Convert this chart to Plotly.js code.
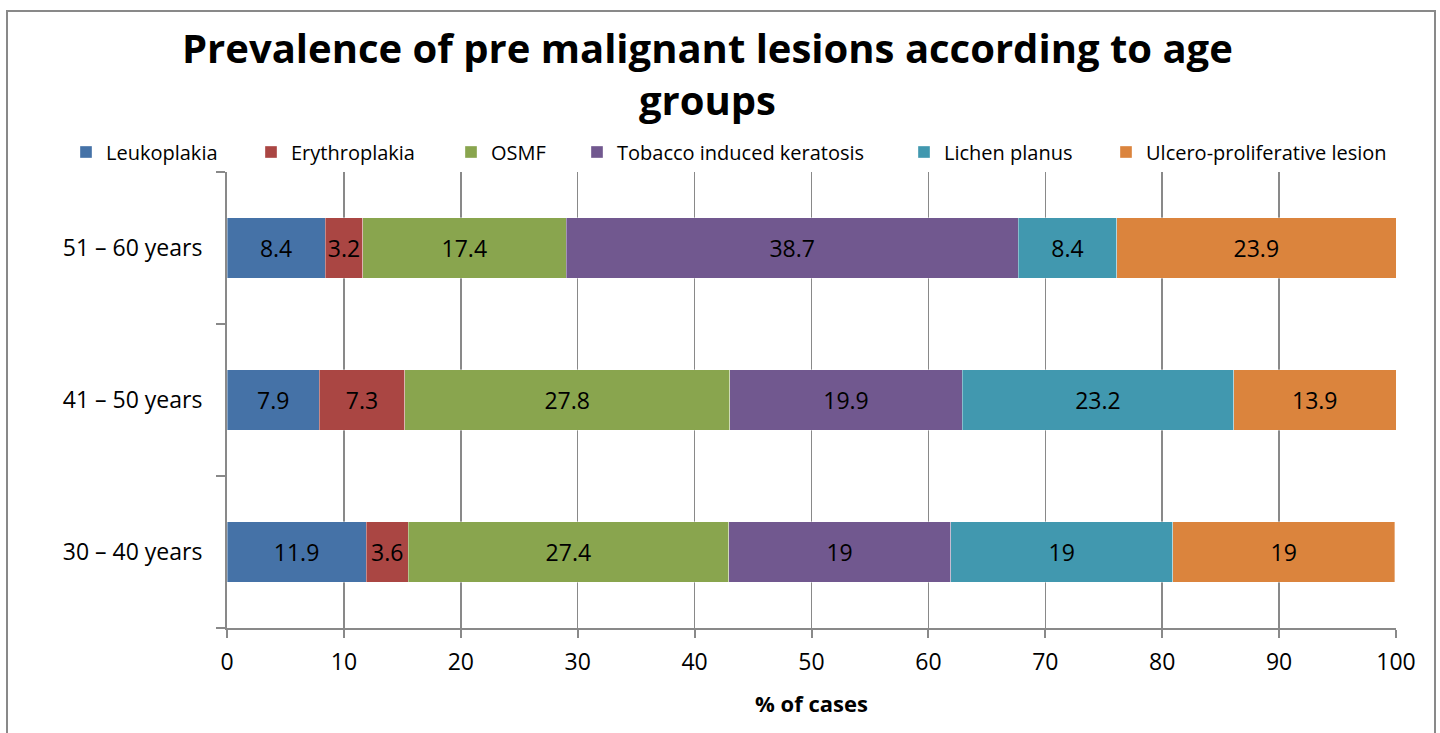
<!DOCTYPE html>
<html>
<head>
<meta charset="utf-8">
<script src="https://cdn.plot.ly/plotly-3.0.1.min.js"></script>
<style>html,body{margin:0;padding:0;background:#fff;}#chart{width:1440px;height:733px;}</style>
</head>
<body>
<div id="chart"></div>
<script>
const ageGroups = ["30 – 40 years", "41 – 50 years", "51 – 60 years"];
const seriesNames = ["Leukoplakia", "Erythroplakia", "OSMF", "Tobacco induced keratosis", "Lichen planus", "Ulcero-proliferative lesion"];
const leukoplakia = [11.9, 7.9, 8.4];
const erythroplakia = [3.6, 7.3, 3.2];
const osmf = [27.4, 27.8, 17.4];
const tobaccoKeratosis = [19, 19.9, 38.7];
const lichenPlanus = [19, 23.2, 8.4];
const ulceroProliferative = [19, 13.9, 23.9];
const xTicks = [0, 10, 20, 30, 40, 50, 60, 70, 80, 90, 100];
const titleText = "Prevalence of pre malignant lesions according to age<br>groups";
const xTitle = "% of cases";

const seriesValues = [leukoplakia, erythroplakia, osmf, tobaccoKeratosis, lichenPlanus, ulceroProliferative];
const colors = ["#4572A7", "#AA4643", "#89A54E", "#71588F", "#4198AF", "#DB843D"];
const FONT = "Open Sans, Noto Sans, sans-serif";

// plot area in pixels: x 227..1396, y 172..628
const pl = 227, pr = 1396, pt = 172, pb = 628;
const px = v => (v - pl) / (pr - pl);
const py = v => (pb - v) / (pb - pt);

// legend swatch left edges (px) for each entry, one legend per entry
const legendSwatchX = [80, 265, 465, 591, 918, 1120];

const traces = seriesNames.map((name, i) => ({
  type: "bar",
  orientation: "h",
  name: name,
  y: ageGroups,
  x: seriesValues[i],
  legend: i === 0 ? "legend" : "legend" + (i + 1),
  marker: {color: colors[i], line: {color: "rgba(255,255,255,0.6)", width: 0.6}},
  text: seriesValues[i].map(String),
  texttemplate: "%{text}",
  textposition: "inside",
  insidetextanchor: "middle",
  textangle: 0,
  constraintext: "none",
  textfont: {color: "#000", size: 23, family: FONT},
  hoverinfo: "x+name"
}));

const layout = {
  width: 1440, height: 733,
  margin: {l: pl, r: 1440 - pr, t: pt, b: 733 - pb, pad: 0},
  paper_bgcolor: "#fff", plot_bgcolor: "#fff",
  font: {family: FONT, color: "#000", size: 20},
  barmode: "stack",
  bargap: 0.6,
  showlegend: true,
  xaxis: {
    range: [0, 100],
    tickvals: xTicks,
    ticktext: xTicks.map(String),
    ticks: "outside", ticklen: 8, tickcolor: "#898989", tickwidth: 2,
    showgrid: true, gridcolor: "#898989", gridwidth: 1.5,
    zeroline: false,
    showline: true, linecolor: "#898989", linewidth: 2,
    tickfont: {family: FONT, size: 23, color: "#000"},
    ticklabelstandoff: 4,
    title: {text: "<b>" + xTitle + "</b>", font: {family: FONT, size: 22, color: "#000"}, standoff: 21},
    fixedrange: true
  },
  yaxis: {
    type: "category",
    tickson: "boundaries",
    ticks: "outside", ticklen: 9, tickcolor: "#898989", tickwidth: 2,
    showgrid: false,
    showline: true, linecolor: "#898989", linewidth: 2,
    tickfont: {family: FONT, size: 23, color: "#000"},
    ticklabelstandoff: 18,
    fixedrange: true
  },
  annotations: [{
    text: "<b>" + titleText + "</b>",
    xref: "paper", yref: "paper",
    x: px(707), y: py(73), xanchor: "center", yanchor: "middle",
    showarrow: false,
    font: {family: FONT, size: 40, color: "#000"}
  }],
  shapes: [{
    type: "rect", xref: "paper", yref: "paper",
    x0: px(7), x1: px(1435), y0: py(745), y1: py(11),
    line: {color: "#898989", width: 2}, fillcolor: "rgba(0,0,0,0)", layer: "below"
  }]
};

legendSwatchX.forEach((sx, i) => {
  layout[i === 0 ? "legend" : "legend" + (i + 1)] = {
    orientation: "h",
    x: px(sx - 14), xanchor: "left",
    y: py(152), yanchor: "middle",
    font: {family: FONT, size: 20, color: "#000"},
    itemwidth: 30,
    bgcolor: "rgba(0,0,0,0)"
  };
});

Plotly.newPlot("chart", traces, layout, {displayModeBar: false, staticPlot: true});
</script>
</body>
</html>
